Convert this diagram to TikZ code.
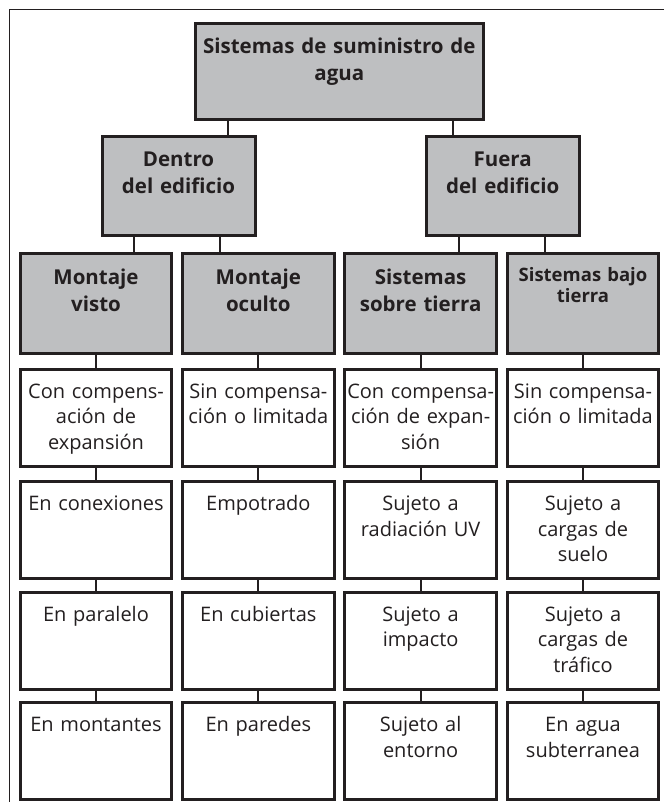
\documentclass[tikz,border=0pt]{standalone}
\usepackage{fontspec}
\setmainfont{Open Sans}
\usetikzlibrary{positioning}
\definecolor{boxgrey}{RGB}{190,191,193}
\definecolor{ink}{RGB}{35,31,32}

\begin{document}
\begin{tikzpicture}[x=1pt, y=-1pt,
    every node/.style={draw=ink, line width=3pt, inner sep=0pt, anchor=north, align=center, text=ink},
    head/.style={fill=boxgrey, font=\bfseries\fontsize{20.5}{27}\selectfont, text height=30pt},
    colhead/.style={head, text width=151.5pt, text height=31pt, text depth=68.5pt},
    item/.style={fill=white, text width=151.5pt, font=\fontsize{20}{25.7}\selectfont, text height=29pt, text depth=68pt},
    link/.style={draw=ink, line width=2pt}]
                \useasboundingbox (0,0) rectangle (664,802);
                \draw[draw=ink, line width=1pt] (664,9.3) -- (9.3,9.3) -- (9.3,802);

                % levels 1 and 2
                \node[head, text width=288pt, text depth=66pt] (agua) at (339.3,21.7) {Sistemas de suministro de\\agua};
                \node[head, text width=153pt, text depth=69pt] (dentro) at (178.5,135) {Dentro\\del edificio};
                \node[head, text width=153pt, text depth=69pt] (fuera) at (502.7,135) {Fuera\\del edificio};

                % level 3
                \node[colhead] (visto) at (96,252) {Montaje\\visto};
                \node[colhead] (oculto) at (258.3,252) {Montaje\\oculto};
                \node[colhead] (sobre) at (420.6,252) {Sistemas\\sobre tierra};
                \node[colhead, font=\bfseries\fontsize{18.5}{21}\selectfont, text height=28pt, text depth=71.5pt] (bajo) at (583,252) {Sistemas bajo\\tierra};

                % Montaje visto
                \node[item] (v1) at (96,367.5) {Con compens-\\ación de\\expansión};
                \node[item] (v2) at (96,480) {En conexiones};
                \node[item] (v3) at (96,590.5) {En paralelo};
                \node[item] (v4) at (96,701) {En montantes};

                % Montaje oculto
                \node[item] (o1) at (258.3,367.5) {Sin compensa-\\ción o limitada};
                \node[item] (o2) at (258.3,480) {Empotrado};
                \node[item] (o3) at (258.3,590.5) {En cubiertas};
                \node[item] (o4) at (258.3,701) {En paredes};

                % sobre tierra
                \node[item] (s1) at (420.6,367.5) {Con compensa-\\ción de expan-\\sión};
                \node[item] (s2) at (420.6,480) {Sujeto a\\radiación UV};
                \node[item] (s3) at (420.6,590.5) {Sujeto a\\impacto};
                \node[item] (s4) at (420.6,701) {Sujeto al\\entorno};

                % bajo tierra
                \node[item] (b1) at (583,367.5) {Sin compensa-\\ción o limitada};
                \node[item] (b2) at (583,480) {Sujeto a\\cargas de\\suelo};
                \node[item] (b3) at (583,590.5) {Sujeto a\\cargas de\\tráfico};
                \node[item] (b4) at (583,701) {En agua\\subterranea};

                \draw[link] ([xshift=49.5pt]dentro.north) -- ([xshift=49.5pt]dentro.north |- agua.south);
                \draw[link] ([xshift=-49.5pt]fuera.north) -- ([xshift=-49.5pt]fuera.north |- agua.south);
                \draw[link] ([xshift=37.5pt]visto.north) -- ([xshift=37.5pt]visto.north |- dentro.south);
                \draw[link] ([xshift=-38.5pt]oculto.north) -- ([xshift=-38.5pt]oculto.north |- dentro.south);
                \draw[link] ([xshift=38pt]sobre.north) -- ([xshift=38pt]sobre.north |- fuera.south);
                \draw[link] ([xshift=-38pt]bajo.north) -- ([xshift=-38pt]bajo.north |- fuera.south);

                \draw[link] (visto) -- (v1) -- (v2) -- (v3) -- (v4);
                \draw[link] (oculto) -- (o1) -- (o2) -- (o3) -- (o4);
                \draw[link] (sobre) -- (s1) -- (s2) -- (s3) -- (s4);
                \draw[link] (bajo) -- (b1) -- (b2) -- (b3) -- (b4);
            \end{tikzpicture}
\end{document}
